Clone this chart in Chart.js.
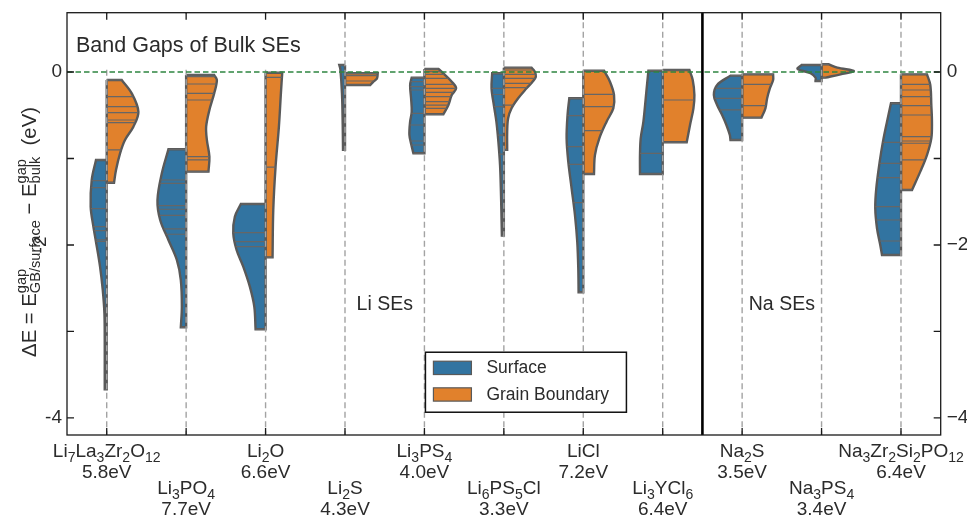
<!DOCTYPE html>
<html>
<head>
<meta charset="utf-8">
<script src="https://cdn.jsdelivr.net/npm/chart.js@4.4.1/dist/chart.umd.min.js"></script>
<style>
  html, body { margin: 0; padding: 0; background: #fff; }
  #wrap { width: 967px; height: 517px; }
</style>
</head>
<body>
<div id="wrap"><canvas id="violins" width="967" height="517"></canvas></div>
<script>
// categories and bulk band gaps
const materials = ['Li_7La_3Zr_2O_{12}', 'Li_3PO_4', 'Li_2O', 'Li_2S', 'Li_3PS_4', 'Li_6PS_5Cl',
  'LiCl', 'Li_3YCl_6', 'Na_2S', 'Na_3PS_4', 'Na_3Zr_2Si_2PO_{12}'];
const bulkGaps = ['5.8', '7.7', '6.6', '4.3', '4.0', '3.3', '7.2', '6.4', '3.5', '3.4', '6.4'];

// density outline of each half violin: [ΔE (eV), half width (category units)]
const surfaceShape = [
  [[-1.017, .135], [-1.249, .189], [-1.557, .202], [-1.788, .168], [-1.942, .139], [-2.25, .084], [-2.52, .05], [-2.79, .029], [-3.10, .025], [-3.48, .025], [-3.67, .025]],
  [[-0.894, .223], [-1.171, .306], [-1.48, .361], [-1.711, .327], [-1.942, .223], [-2.173, .117], [-2.405, .067], [-2.713, .054], [-2.952, .067]],
  [[-1.526, .311], [-1.673, .387], [-1.865, .407], [-2.058, .365], [-2.25, .281], [-2.482, .198], [-2.713, .142], [-2.975, .126]],
  [[0.081, .072], [0.035, .059], [-0.25, .038], [-0.6, .029], [-0.9, .025]],
  [[-0.065, .16], [-0.15, .18], [-0.304, .168], [-0.459, .16], [-0.574, .18], [-0.728, .189], [-0.844, .164], [-0.94, .139]],
  [[-0.015, .147], [-0.189, .155], [-0.382, .126], [-0.574, .094], [-0.805, .069], [-1.075, .048], [-1.345, .038], [-1.615, .031], [-1.892, .025]],
  [[-0.304, .176], [-0.497, .198], [-0.767, .21], [-1.037, .189], [-1.345, .147], [-1.653, .105], [-1.962, .076], [-2.27, .063], [-2.547, .059]],
  [[0.015, .18], [-0.189, .202], [-0.574, .243], [-0.767, .277], [-0.96, .286], [-1.179, .286]],
  [[-0.042, .147], [-0.15, .315], [-0.266, .356], [-0.382, .315], [-0.497, .252], [-0.613, .198], [-0.728, .155], [-0.786, .147]],
  [[0.081, .252], [0.035, .302], [-0.015, .139], [-0.065, .076], [-0.104, .076]],
  [[-0.362, .126], [-0.574, .176], [-0.805, .227], [-1.037, .268], [-1.345, .311], [-1.576, .324], [-1.807, .302], [-2.0, .261], [-2.116, .239]]
];
const gbShape = [
  [[-0.092, .189], [-0.247, .315], [-0.459, .399], [-0.632, .336], [-0.786, .23], [-0.94, .168], [-1.133, .117], [-1.28, .092]],
  [[-0.035, .353], [-0.092, .387], [-0.247, .353], [-0.439, .293], [-0.632, .252], [-0.786, .261], [-0.979, .293], [-1.152, .281]],
  [[-0.008, .21], [-0.247, .193], [-0.632, .168], [-1.094, .126], [-1.595, .097], [-2.143, .088]],
  [[-0.015, .412], [-0.073, .403], [-0.119, .349], [-0.15, .319]],
  [[0.035, .176], [-0.035, .261], [-0.112, .344], [-0.189, .399], [-0.266, .344], [-0.382, .302], [-0.489, .239]],
  [[0.05, .349], [0.004, .39], [-0.054, .403], [-0.112, .361], [-0.189, .286], [-0.304, .18], [-0.42, .097], [-0.535, .054], [-0.69, .042], [-0.9, .042]],
  [[0.015, .261], [-0.112, .336], [-0.266, .387], [-0.42, .378], [-0.574, .293], [-0.767, .202], [-0.96, .147], [-1.179, .135]],
  [[0.023, .336], [-0.092, .378], [-0.266, .399], [-0.42, .387], [-0.613, .344], [-0.813, .302]],
  [[-0.027, .39], [-0.092, .39], [-0.189, .349], [-0.304, .315], [-0.42, .293], [-0.528, .243]],
  [[0.089, .092], [0.05, .198], [0.012, .407], [-0.027, .239], [-0.065, .05]],
  [[-0.027, .327], [-0.15, .369], [-0.382, .382], [-0.574, .39], [-0.767, .382], [-0.96, .327], [-1.152, .243], [-1.364, .139]]
];

// individual values (drawn as sticks)
const surfaceValues = [
  [-1.017, -1.257, -1.337, -1.58, -1.788, -1.835, -1.942, -1.96, -3.67],
  [-0.894, -1.249, -1.287, -1.545, -1.587, -1.657, -1.815, -1.876, -2.952],
  [-1.526, -1.858, -1.962, -2.02, -2.975],
  [0.081, 0.0, -0.9],
  [-0.065, -0.112, -0.17, -0.208, -0.478, -0.613, -0.798, -0.844, -0.94],
  [-0.015, -0.189, -0.26, -0.4, -0.73, -0.95, -1.892],
  [-0.304, -0.505, -0.863, -1.067, -1.511, -2.547],
  [0.015, -0.94, -1.179],
  [-0.042, -0.189, -0.304, -0.439, -0.786],
  [0.081, -0.104],
  [-0.362, -0.813, -1.056, -1.222, -1.557, -1.711, -1.954, -2.116]
];
const gbValues = [
  [-0.092, -0.285, -0.401, -0.47, -0.555, -0.586, -0.9, -1.28],
  [-0.035, -0.054, -0.139, -0.247, -0.324, -0.979, -1.017, -1.152],
  [-0.008, -0.062, -1.1, -2.143],
  [-0.015, -0.042, -0.104, -0.15],
  [0.035, 0.004, -0.027, -0.073, -0.143, -0.189, -0.235, -0.285, -0.343, -0.382, -0.42, -0.489],
  [0.05, 0.023, -0.027, -0.073, -0.131, -0.181, -0.382, -0.9],
  [0.015, -0.258, -0.401, -0.678, -1.179],
  [0.023, -0.324, -0.813],
  [-0.027, -0.143, -0.39, -0.528],
  [0.089, -0.065],
  [-0.027, -0.143, -0.208, -0.285, -0.39, -0.497, -0.747, -0.798, -0.824, -1.017, -1.364]
];

const yTicks = [0, -1, -2, -3, -4];
const leftTickLabels = { '0': '0', '-4': '-4' };
const rightTickLabels = { '0': '0', '-2': '\u22122', '-4': '\u22124' };

const SURF = '#3274a1', GB = '#e1812c', EDGE = '#595959', STICK = '#666666', TEXT = '#2b2b2b';
const FONT = '"Liberation Sans", Arial, sans-serif';
const fnt = s => s + 'px ' + FONT;

// polygon of a half violin; corner points doubled so the straight edges stay straight
function halfViolin(i, prof, side) {
  const top = prof[0][0], bot = prof[prof.length - 1][0];
  const pts = [{ x: i, y: top }, { x: i, y: top }];
  prof.forEach(([v, w], k) => {
    pts.push({ x: i + side * w, y: v });
    if (k === 0 || k === prof.length - 1) pts.push({ x: i + side * w, y: v });
  });
  pts.push({ x: i, y: bot }, { x: i, y: bot }, { x: i, y: top });
  return pts;
}

function widthAt(prof, v) {
  if (v >= prof[0][0]) return prof[0][1];
  for (let k = 1; k < prof.length; k++) {
    const [y0, w0] = prof[k - 1], [y1, w1] = prof[k];
    if (v >= y1) return w0 + (w1 - w0) * (y0 - v) / (y0 - y1);
  }
  return prof[prof.length - 1][1];
}

function sticks(i, prof, vals, side) {
  const pts = [];
  vals.forEach(v => {
    pts.push({ x: i, y: v }, { x: i + side * widthAt(prof, v), y: v }, { x: i, y: null });
  });
  return pts;
}

const datasets = [];
materials.forEach((m, i) => {
  datasets.push({ data: halfViolin(i, surfaceShape[i], -1), showLine: true, fill: 'shape',
    backgroundColor: SURF, borderColor: EDGE, borderWidth: 2.4, tension: 0.35, pointRadius: 0, order: 2 });
  datasets.push({ data: halfViolin(i, gbShape[i], 1), showLine: true, fill: 'shape',
    backgroundColor: GB, borderColor: EDGE, borderWidth: 2.4, tension: 0.35, pointRadius: 0, order: 2 });
  datasets.push({ data: sticks(i, surfaceShape[i], surfaceValues[i], -1), showLine: true, spanGaps: false,
    borderColor: STICK, borderWidth: 1.2, pointRadius: 0, order: 1 });
  datasets.push({ data: sticks(i, gbShape[i], gbValues[i], 1), showLine: true, spanGaps: false,
    borderColor: STICK, borderWidth: 1.2, pointRadius: 0, order: 1 });
});

function parseRich(s) {
  const out = [];
  let buf = '', i = 0;
  while (i < s.length) {
    const c = s[i];
    if (c === '_' || c === '^') {
      if (buf) { out.push({ t: buf, m: 0 }); buf = ''; }
      let t;
      if (s[i + 1] === '{') { const j = s.indexOf('}', i); t = s.slice(i + 2, j); i = j + 1; }
      else { t = s[i + 1]; i += 2; }
      out.push({ t, m: c === '_' ? 1 : 2 });
    } else { buf += c; i++; }
  }
  if (buf) out.push({ t: buf, m: 0 });
  return out;
}

// text with sub/superscripts, y is the baseline
function drawRich(ctx, s, x, y, size, align, ratio, subDy, supDy) {
  const segs = parseRich(s);
  const sm = size * ratio;
  const off = m => m === 1 ? size * subDy : -size * supDy;
  const items = [];
  for (let k = 0; k < segs.length; k++) {
    const g = segs[k];
    if (g.m === 0) { items.push([{ t: g.t, dy: 0, sz: size }]); continue; }
    const part = { t: g.t, dy: off(g.m), sz: sm };
    const nx = segs[k + 1];
    if (nx && nx.m && nx.m !== g.m) { items.push([part, { t: nx.t, dy: off(nx.m), sz: sm }]); k++; }
    else items.push([part]);
  }
  const widths = items.map(it => Math.max(...it.map(p => { ctx.font = fnt(p.sz); return ctx.measureText(p.t).width; })));
  const total = widths.reduce((a, b) => a + b, 0);
  let cx = align === 'center' ? x - total / 2 : align === 'right' ? x - total : x;
  ctx.textAlign = 'left';
  ctx.textBaseline = 'alphabetic';
  items.forEach((it, n) => {
    it.forEach(p => { ctx.font = fnt(p.sz); ctx.fillText(p.t, cx, y + p.dy); });
    cx += widths[n];
  });
}

const decor = {
  id: 'decor',
  afterDatasetsDraw(chart) {
    const ctx = chart.ctx, a = chart.chartArea, xs = chart.scales.x, ys = chart.scales.y;
    ctx.save();

    // dashed guide at every material
    ctx.setLineDash([6, 3.5]);
    ctx.strokeStyle = '#a3a3a3';
    ctx.lineWidth = 1.4;
    materials.forEach((m, i) => {
      const px = xs.getPixelForValue(i);
      ctx.beginPath(); ctx.moveTo(px, a.top); ctx.lineTo(px, a.bottom); ctx.stroke();
    });

    // title with white background
    const title = 'Band Gaps of Bulk SEs';
    ctx.font = fnt(21.5);
    const tw = ctx.measureText(title).width;
    ctx.fillStyle = '#fff';
    ctx.fillRect(a.left + 1, a.top + 1, tw + 18, 54);
    ctx.fillStyle = TEXT;
    ctx.textAlign = 'left'; ctx.textBaseline = 'alphabetic';
    ctx.fillText(title, a.left + 9, a.top + 39);

    // zero line
    const y0 = ys.getPixelForValue(0);
    ctx.setLineDash([5.5, 3]);
    ctx.strokeStyle = '#2e8540';
    ctx.lineWidth = 1.5;
    ctx.beginPath(); ctx.moveTo(a.left, y0); ctx.lineTo(a.right, y0); ctx.stroke();

    // Li / Na separator
    ctx.setLineDash([]);
    ctx.strokeStyle = '#000';
    ctx.lineWidth = 2.6;
    const sx = xs.getPixelForValue(7.5);
    ctx.beginPath(); ctx.moveTo(sx, a.top); ctx.lineTo(sx, a.bottom); ctx.stroke();

    // frame and inward ticks
    ctx.strokeStyle = '#1a1a1a';
    ctx.lineWidth = 1.3;
    ctx.strokeRect(a.left, a.top, a.right - a.left, a.bottom - a.top);
    ctx.beginPath();
    yTicks.forEach(t => {
      const py = ys.getPixelForValue(t);
      ctx.moveTo(a.left, py); ctx.lineTo(a.left + 7, py);
      ctx.moveTo(a.right, py); ctx.lineTo(a.right - 7, py);
    });
    materials.forEach((m, i) => {
      const px = xs.getPixelForValue(i);
      ctx.moveTo(px, a.top); ctx.lineTo(px, a.top + 7);
      ctx.moveTo(px, a.bottom); ctx.lineTo(px, a.bottom - 7);
    });
    ctx.stroke();

    // y tick labels
    ctx.fillStyle = TEXT;
    ctx.font = fnt(19);
    ctx.textBaseline = 'middle';
    yTicks.forEach(t => {
      const py = ys.getPixelForValue(t);
      if (leftTickLabels[t]) { ctx.textAlign = 'right'; ctx.fillText(leftTickLabels[t], a.left - 5, py); }
      if (rightTickLabels[t]) { ctx.textAlign = 'left'; ctx.fillText(rightTickLabels[t], a.right + 6, py); }
    });
    ctx.save();
    ctx.translate(a.left - 26, ys.getPixelForValue(-2));
    ctx.rotate(-Math.PI / 2);
    ctx.textAlign = 'center';
    ctx.fillText('-2', 0, 0);
    ctx.restore();

    // material labels, staggered in two rows
    materials.forEach((m, i) => {
      const px = xs.getPixelForValue(i);
      const base = a.bottom + (i % 2 === 0 ? 22 : 59);
      drawRich(ctx, m, px, base, 19, 'center', 0.74, 0.24, 0.45);
      ctx.font = fnt(19);
      ctx.textAlign = 'center'; ctx.textBaseline = 'alphabetic';
      ctx.fillText(bulkGaps[i] + 'eV', px, base + 21);
    });

    // group labels
    ctx.font = fnt(19.5);
    ctx.textAlign = 'center'; ctx.textBaseline = 'middle';
    ctx.fillText('Li SEs', xs.getPixelForValue(3.5), ys.getPixelForValue(-2.69));
    ctx.fillText('Na SEs', xs.getPixelForValue(8.5), ys.getPixelForValue(-2.69));

    // legend
    const lx = xs.getPixelForValue(4) + 1, ly = ys.getPixelForValue(-3.24);
    ctx.fillStyle = '#fff';
    ctx.fillRect(lx, ly, 201, 60);
    ctx.strokeStyle = '#111';
    ctx.lineWidth = 1.5;
    ctx.strokeRect(lx, ly, 201, 60);
    [[SURF, 'Surface'], [GB, 'Grain Boundary']].forEach(([c, t], k) => {
      const yy = ly + 9 + k * 26.6;
      ctx.fillStyle = c;
      ctx.fillRect(lx + 8, yy, 38, 13.3);
      ctx.strokeStyle = EDGE; ctx.lineWidth = 1.2;
      ctx.strokeRect(lx + 8, yy, 38, 13.3);
      ctx.fillStyle = TEXT;
      ctx.font = fnt(17.5);
      ctx.textAlign = 'left'; ctx.textBaseline = 'middle';
      ctx.fillText(t, lx + 61, yy + 7);
    });

    // y axis title
    ctx.save();
    ctx.translate(36, 232);
    ctx.rotate(-Math.PI / 2);
    ctx.fillStyle = TEXT;
    drawRich(ctx, '\u0394E = E^{gap}_{GB/surface} \u2212 E^{gap}_{bulk}  (eV)', 0, 0, 20.3, 'center', 0.72, 0.2, 0.5);
    ctx.restore();

    ctx.restore();
  }
};

new Chart(document.getElementById('violins'), {
  type: 'scatter',
  data: { datasets },
  options: {
    responsive: false,
    animation: false,
    devicePixelRatio: 1,
    layout: { padding: { left: 67, right: 26.3, top: 12.7, bottom: 82 } },
    scales: {
      x: { type: 'linear', min: -0.5, max: 10.5, display: false },
      y: { type: 'linear', min: -4.197, max: 0.6855, display: false }
    },
    plugins: { legend: { display: false }, tooltip: { enabled: false } }
  },
  plugins: [decor]
});
</script>
</body>
</html>
